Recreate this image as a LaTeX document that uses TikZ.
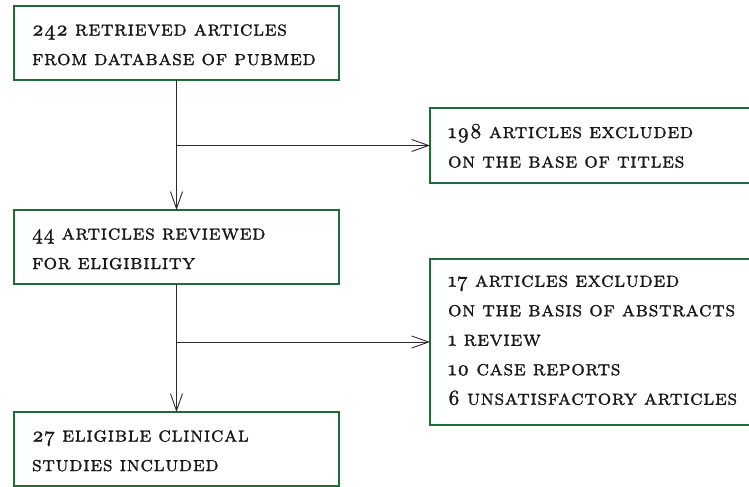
\documentclass[tikz,border=0pt]{standalone}
\usepackage{xcolor}
\usepackage{tikz}
\usetikzlibrary{arrows.meta, positioning}

\definecolor{boxgreen}{HTML}{1F6B3A}
\definecolor{linegray}{HTML}{2B2B2B}
\font\capsfont="[lmromancaps10-regular]:letterspace=3;embolden=1.2" at 21.3bp
\font\digitfont="[lmroman10-regular]:+onum;letterspace=3;embolden=1.2" at 21.3bp
\newcommand{\osn}[1]{{\digitfont #1}}

\begin{document}
\begin{tikzpicture}[
    x=1bp, y=-1bp,
    node distance=130bp,
    stage/.style={rectangle, draw=boxgreen, line width=2bp, outer sep=0pt, minimum width=325bp, minimum height=74bp, text width=289bp, inner xsep=18bp, inner ysep=0pt, text height=15bp, align=left, font={\capsfont\baselineskip=29.5bp}, text=black!90, anchor=north west},
    side/.style={stage, minimum width=335bp, text width=299bp},
    arrow/.style={-{Straight Barb[length=17bp, width=12bp]}, line width=0.9bp, linegray}
]
\useasboundingbox (0,0) rectangle (749,487);

% main column
\node[stage] (retrieved) at (14,6) {\osn{242} retrieved articles\\from database of pubmed};
\node[stage, below=130bp of retrieved] (reviewed) {\osn{44} articles reviewed\\for eligibility};
\node[stage, below=128bp of reviewed] (included) {\osn{27} eligible clinical\\studies included};

% exclusions
\node[side, minimum height=75bp] (titles) at (430,108) {\osn{198} articles excluded\\on the base of titles};
\node[side, minimum height=166bp, text height=8bp] (abstracts) at (430,259) {\osn{17} articles excluded\\on the basis of abstracts\\\osn{1} review\\\osn{10} case reports\\\osn{6} unsatisfactory articles};

% connectors
\draw[arrow] (retrieved.south) -- (reviewed.north);
\draw[arrow] (retrieved.south |- titles.west) -- (titles.west);
\draw[arrow] (reviewed.south) -- (included.north);
\draw[arrow] (reviewed.south |- abstracts.west) -- (abstracts.west);

\end{tikzpicture}
\end{document}
